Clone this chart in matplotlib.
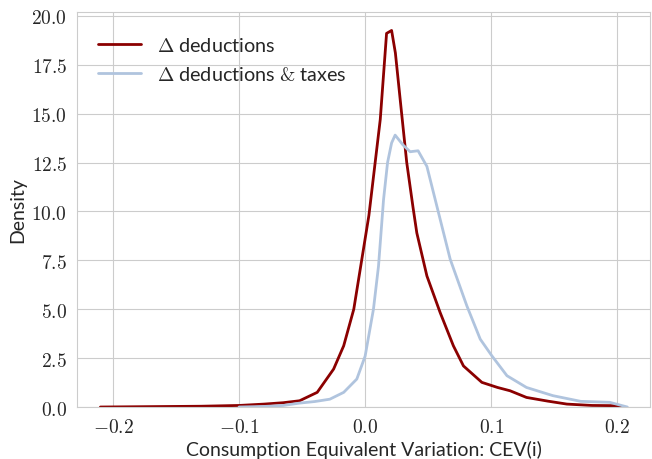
import matplotlib
matplotlib.use("Agg")
import matplotlib.pyplot as plt
from matplotlib.ticker import FuncFormatter
import seaborn as sns


# KDE of CEV(i)
x_ded = [-0.21, -0.17, -0.13, -0.10, -0.08, -0.065, -0.052, -0.038, -0.025, -0.017,
         -0.009, -0.003, 0.003, 0.012, 0.017, 0.021, 0.024, 0.028, 0.033, 0.038,
         0.041, 0.049, 0.0595, 0.070, 0.078, 0.0926, 0.105, 0.115, 0.128, 0.145,
         0.16, 0.18, 0.197, 0.205]
y_ded = [0.0, 0.02, 0.04, 0.08, 0.15, 0.22, 0.32, 0.75, 1.94, 3.13,
         5.0, 7.4, 9.8, 14.7, 19.1, 19.25, 18.1, 15.6, 12.5, 10.2,
         8.9, 6.7, 4.83, 3.13, 2.1, 1.26, 1.0, 0.83, 0.49, 0.3,
         0.15, 0.08, 0.07, 0.02]

x_tax = [-0.10, -0.08, -0.065, -0.052, -0.04, -0.028, -0.017, -0.0066, 0.0, 0.0066,
         0.0106, 0.0146, 0.0178, 0.021, 0.0238, 0.03, 0.0357, 0.042, 0.049, 0.0595,
         0.0675, 0.0807, 0.0913, 0.1005, 0.1125, 0.128, 0.149, 0.171, 0.194, 0.208]
y_tax = [0.0, 0.03, 0.08, 0.2, 0.28, 0.4, 0.75, 1.43, 2.6, 5.0,
         7.2, 10.6, 12.5, 13.5, 13.9, 13.4, 13.05, 13.1, 12.3, 9.6,
         7.55, 5.17, 3.47, 2.62, 1.6, 1.0, 0.58, 0.29, 0.24, 0.0]

labels = [r"$\Delta$ deductions", r"$\Delta$ deductions $&$ taxes"]
colors = ["darkred", "lightsteelblue"]

sns.set_style("whitegrid")
plt.rcParams['font.family'] = ['Lato', 'DejaVu Sans']
plt.rcParams['mathtext.fontset'] = 'cm'

fig = plt.figure(figsize=(6.52, 4.6), dpi=100)
ax = fig.add_axes([0.118, 0.113, 0.879, 0.859])

ax.plot(x_ded, y_ded, color=colors[0], linewidth=2, label=labels[0])
ax.plot(x_tax, y_tax, color=colors[1], linewidth=2, label=labels[1])

ax.set_xlim(-0.2286, 0.226)
ax.set_ylim(0, 20.2)
ax.set_xticks([-0.2, -0.1, 0.0, 0.1, 0.2])
ax.set_yticks([0, 2.5, 5, 7.5, 10, 12.5, 15, 17.5, 20])
ax.xaxis.set_major_formatter(FuncFormatter(lambda v, p: "$%.1f$" % v))
ax.yaxis.set_major_formatter(FuncFormatter(lambda v, p: "$%.1f$" % v))
ax.tick_params(labelsize=14, colors='0.15')

ax.set_xlabel("Consumption Equivalent Variation: CEV(i)", size=14, color='0.15')
ax.set_ylabel("Density", size=14, color='0.15')

ax.legend(loc="upper left", frameon=False, fontsize=14.2, handlelength=2.2,
          labelspacing=0.6, bbox_to_anchor=(0.005, 0.985))

fig.savefig("out.png", dpi=100)
